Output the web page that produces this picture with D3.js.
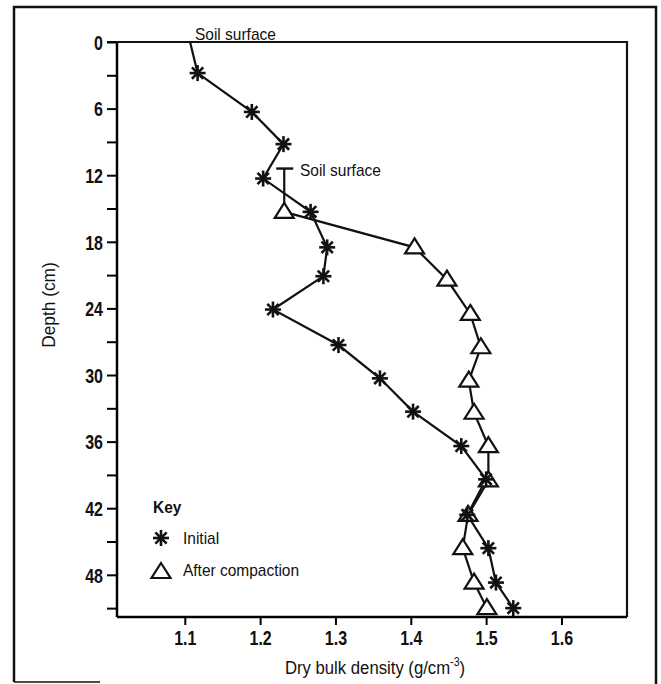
<!DOCTYPE html>
<html>
<head>
<meta charset="utf-8">
<script src="https://d3js.org/d3.v7.min.js"></script>
<style>
body { margin: 0; background: #fff; }
text { font-family: "Liberation Sans", Arial, sans-serif; fill: #111; }
</style>
</head>
<body>
<div id="plot"></div>
<script>

var width = 661;
var height = 684;

// Initial profile (first point is the original soil surface)
var initialDepth = [0, 2.8, 6.3, 9.2, 12.3, 15.3, 18.5, 21.1, 24.1, 27.3, 30.3, 33.3, 36.4, 39.4, 42.6, 45.6, 48.7, 51.0];
var initialDensity = [1.107, 1.117, 1.189, 1.231, 1.204, 1.267, 1.289, 1.284, 1.217, 1.304, 1.359, 1.403, 1.467, 1.500, 1.475, 1.503, 1.513, 1.536];

// After compaction profile
var compactDepth = [15.3, 18.5, 21.4, 24.5, 27.5, 30.5, 33.4, 36.4, 39.5, 42.6, 45.6, 48.7, 51.0];
var compactDensity = [1.232, 1.405, 1.448, 1.479, 1.493, 1.477, 1.484, 1.503, 1.503, 1.476, 1.469, 1.484, 1.501];

// compacted soil surface marker: [top depth, bottom depth, density]
var compactSurface = [11.4, 15.3, 1.232];

var xTicks = [1.1, 1.2, 1.3, 1.4, 1.5, 1.6];
var yMajor = [0, 6, 12, 18, 24, 30, 36, 42, 48];
var yMinor = [3, 9, 15, 21, 27, 33, 39, 45, 51];

var margin = { left: 117, top: 42, right: 34, bottom: 67 };

var svg = d3.select("#plot").append("svg")
  .attr("width", width).attr("height", height);

var xScale = d3.scaleLinear().domain([1.01, 1.687]).range([margin.left, width - margin.right]);
var yScale = d3.scaleLinear().domain([0, 51.8]).range([margin.top, height - margin.bottom]);

var x0 = xScale.range()[0], x1 = xScale.range()[1];
var y0 = yScale.range()[0], y1 = yScale.range()[1];

// squeeze text horizontally to look like the narrow typeface of the original
function condense(sel, k) {
  sel.each(function () {
    var len = this.getComputedTextLength();
    if (len > 0) d3.select(this).attr("textLength", len * k).attr("lengthAdjust", "spacingAndGlyphs");
  });
}

// outer frame
var frame = svg.append("g").attr("stroke", "#111").attr("stroke-width", 2.5).attr("fill", "none");
frame.append("path").attr("d", "M14,682 L14,7 L656,7 L656,684");
frame.append("line").attr("x1", 14).attr("x2", 100).attr("y1", 682).attr("y2", 682).attr("stroke-width", 1.5);

// inner frame: top and right
svg.append("path")
  .attr("d", "M" + (x0 - 10) + "," + y0 + " L" + x1 + "," + y0 + " L" + x1 + "," + y1)
  .attr("fill", "none").attr("stroke", "#111").attr("stroke-width", 2.2);

// y axis
var yAxis = d3.axisLeft(yScale).tickValues(yMajor.concat(yMinor)).tickSize(10)
  .tickFormat(function (d) { return yMajor.indexOf(d) >= 0 ? d : ""; });
var gy = svg.append("g").attr("transform", "translate(" + x0 + ",0)").call(yAxis);
gy.select(".domain").attr("d", "M0," + y0 + "V" + y1).attr("stroke-width", 2.5);
gy.selectAll(".tick line").attr("stroke-width", 2);
gy.selectAll(".tick text").attr("x", -14).attr("dy", "0.36em").style("font-size", "20px").style("font-weight", "bold").attr("font-family", null);
condense(gy.selectAll(".tick text"), 0.8);

// x axis
var xAxis = d3.axisBottom(xScale).tickValues(xTicks).tickSize(8).tickFormat(d3.format(".1f"));
var gx = svg.append("g").attr("transform", "translate(0," + y1 + ")").call(xAxis);
gx.select(".domain").attr("d", "M" + x0 + ",0H" + x1).attr("stroke-width", 2.5);
gx.selectAll(".tick line").attr("stroke-width", 2);
gx.selectAll(".tick text").attr("y", 14).style("font-size", "20px").style("font-weight", "bold").attr("font-family", null);
condense(gx.selectAll(".tick text"), 0.8);

// axis titles
var yt = svg.append("text")
  .attr("transform", "translate(55,305) rotate(-90)")
  .attr("text-anchor", "middle").style("font-size", "19px")
  .text("Depth (cm)");
condense(yt, 0.91);

var xt = svg.append("text")
  .attr("transform", "translate(375,674) scale(0.88,1)")
  .attr("text-anchor", "middle").style("font-size", "19px");
xt.append("tspan").text("Dry bulk density (g/cm");
xt.append("tspan").attr("dy", -8).style("font-size", "12px").text("-3");
xt.append("tspan").attr("dy", 8).text(")");

// lines
var line = d3.line()
  .x(function (d) { return xScale(d[1]); })
  .y(function (d) { return yScale(d[0]); });

var initial = initialDepth.map(function (d, i) { return [d, initialDensity[i]]; });
var compact = compactDepth.map(function (d, i) { return [d, compactDensity[i]]; });

svg.append("path").datum(initial).attr("d", line)
  .attr("fill", "none").attr("stroke", "#111").attr("stroke-width", 2.2);
svg.append("path").datum(compact).attr("d", line)
  .attr("fill", "none").attr("stroke", "#111").attr("stroke-width", 2.2);

// compacted soil surface bar
var bx = xScale(compactSurface[2]);
svg.append("line").attr("x1", bx).attr("x2", bx)
  .attr("y1", yScale(compactSurface[0])).attr("y2", yScale(compactSurface[1]))
  .attr("stroke", "#111").attr("stroke-width", 2.2);
svg.append("line").attr("x1", bx - 8).attr("x2", bx + 9)
  .attr("y1", yScale(compactSurface[0])).attr("y2", yScale(compactSurface[0]))
  .attr("stroke", "#111").attr("stroke-width", 2.4);

// markers
function star(g, cx, cy) {
  var r = 8;
  var s = g.append("g").attr("transform", "translate(" + cx + "," + cy + ")")
    .attr("stroke", "#111").attr("stroke-width", 2.6);
  [0, 45, 90, 135].forEach(function (a) {
    var rad = a * Math.PI / 180;
    s.append("line")
      .attr("x1", -r * Math.cos(rad)).attr("y1", -r * Math.sin(rad))
      .attr("x2", r * Math.cos(rad)).attr("y2", r * Math.sin(rad));
  });
  s.append("circle").attr("r", 2.5).attr("fill", "#111").attr("stroke", "none");
}
function triangle(g, cx, cy) {
  g.append("path")
    .attr("d", "M" + cx + "," + (cy - 9) + " L" + (cx + 9.5) + "," + (cy + 6) + " L" + (cx - 9.5) + "," + (cy + 6) + "Z")
    .attr("fill", "#fff").attr("stroke", "#111").attr("stroke-width", 2.2);
}

var marks = svg.append("g");
compact.forEach(function (d) { triangle(marks, xScale(d[1]), yScale(d[0])); });
initial.slice(1).forEach(function (d) { star(marks, xScale(d[1]), yScale(d[0])); });

// annotations
var notes = svg.append("g").style("font-size", "17px");
notes.append("text").attr("x", 195).attr("y", 40).text("Soil surface");
notes.append("text").attr("x", 300).attr("y", 176).text("Soil surface");
condense(notes.selectAll("text"), 0.91);

// legend
var legend = svg.append("g").style("font-size", "17px");
legend.append("text").attr("x", 153).attr("y", 513).style("font-weight", "bold").text("Key");
star(legend, 161, 538);
legend.append("text").attr("x", 183).attr("y", 544).text("Initial");
triangle(legend, 161, 572);
legend.append("text").attr("x", 183).attr("y", 576).text("After compaction");
condense(legend.selectAll("text"), 0.91);

</script>
</body>
</html>
